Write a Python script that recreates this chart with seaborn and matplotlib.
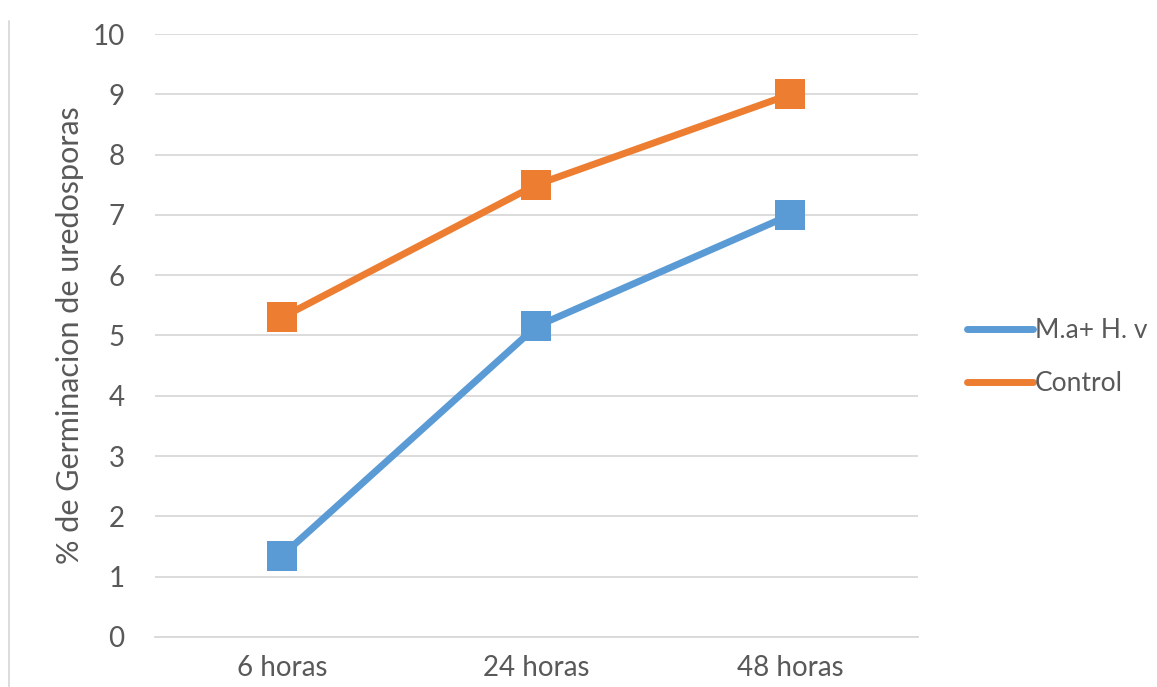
import matplotlib
matplotlib.use("Agg")
import matplotlib.pyplot as plt
import matplotlib.lines as mlines
import seaborn as sns
import pandas as pd

categories = ["6 horas", "24 horas", "48 horas"]
series_names = ["M.a+ H. v", "Control"]
treated_values = [1.35, 5.15, 7.0]
control_values = [5.3, 7.5, 9.0]
y_ticks = [0, 1, 2, 3, 4, 5, 6, 7, 8, 9, 10]

colors = {"M.a+ H. v": "#5B9BD5", "Control": "#ED7D31"}
text_color = "#595959"

sns.set_theme(style="white")
plt.rcParams["font.family"] = ["Lato", "DejaVu Sans"]

df = pd.DataFrame({
    "tiempo": list(range(len(categories))) * 2,
    "valor": treated_values + control_values,
    "serie": [series_names[0]] * len(categories) + [series_names[1]] * len(categories),
})

fig = plt.figure(figsize=(11.57, 6.87), dpi=100)
ax = fig.add_axes([0.134, 0.0728, 0.659, 0.8777])

sns.lineplot(data=df, x="tiempo", y="valor", hue="serie", palette=colors,
             marker="s", markersize=21, linewidth=5, markeredgewidth=0,
             legend=False, ax=ax, zorder=3)

ax.set_xlim(-0.5, 2.5)
ax.set_ylim(0, 10)
ax.set_xticks(range(len(categories)))
ax.set_xticklabels(categories)
ax.set_yticks(y_ticks)
ax.grid(axis="y", color="#D9D9D9", linewidth=1.3, zorder=0)
ax.grid(axis="x", visible=False)
for s in ax.spines.values():
    s.set_visible(False)
ax.spines["bottom"].set_visible(True)
ax.spines["bottom"].set_color("#D9D9D9")
ax.spines["bottom"].set_linewidth(1.3)
ax.tick_params(axis="both", length=0, labelsize=20, colors=text_color)
ax.tick_params(axis="y", pad=22)
ax.tick_params(axis="x", pad=13)
ax.set_xlabel("")
ax.set_ylabel("% de Germinacion de uredosporas", fontsize=22, color=text_color, labelpad=6)

handles = [mlines.Line2D([], [], color=colors[n], linewidth=5, solid_capstyle="round")
           for n in series_names]
leg = fig.legend(handles, series_names, loc="center left", bbox_to_anchor=(0.8315, 0.48),
                 frameon=False, fontsize=19, handlelength=2.5, handletextpad=0.05,
                 labelspacing=1.05, borderpad=0.2, borderaxespad=0.0)
for t in leg.get_texts():
    t.set_color(text_color)

fig.add_artist(mlines.Line2D([0.0075, 0.0075], [0.0, 0.97], transform=fig.transFigure,
                             color="#D9D9D9", linewidth=1.3))

fig.savefig("out.png", dpi=100)
